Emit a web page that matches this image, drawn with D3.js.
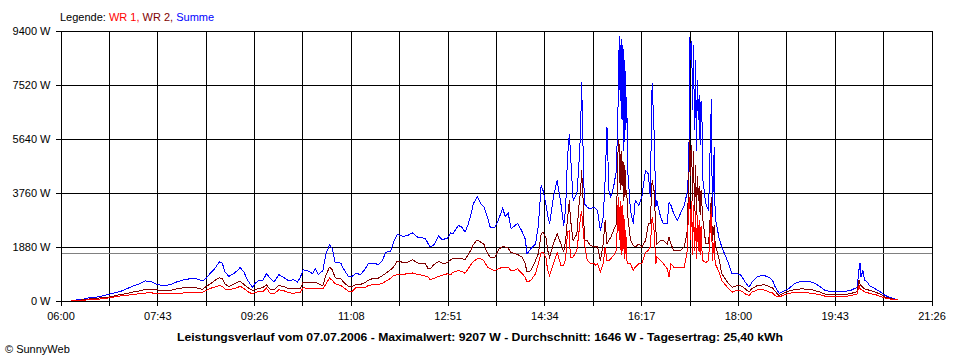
<!DOCTYPE html>
<html><head><meta charset="utf-8">
<script src="https://cdn.jsdelivr.net/npm/d3@7"></script>
<style>
html,body{margin:0;padding:0;background:#fff;}
svg{display:block;}
text{font-family:"Liberation Sans",Arial,sans-serif;font-size:11px;fill:#000;}
</style></head><body>
<svg id="c" width="960" height="360"></svg>
<script>
// ---- data ----
const times = [
 "06:11","06:17","06:23","06:30","06:36","06:42","06:51","06:57",
 "07:04","07:10","07:16","07:23","07:30","07:36","07:42","07:48","07:57",
 "08:03","08:10","08:18","08:25","08:31","08:35","08:39","08:44","08:49","08:52","08:55","08:59",
 "09:04","09:08","09:11","09:15","09:19","09:24","09:27","09:31","09:35","09:39","09:43","09:47","09:52","09:57",
 "10:02","10:08","10:12","10:15","10:18","10:24","10:28","10:31","10:34","10:39","10:42","10:46","10:49","10:52","10:58",
 "11:01","11:06","11:10","11:14","11:19","11:24","11:27","11:33","11:38","11:42","11:46","11:51","11:54","11:58",
 "12:04","12:09","12:14","12:20","12:25","12:28","12:31","12:33","12:37","12:42","12:46","12:49","12:51","12:55","12:57",
 "13:03","13:07","13:10","13:13","13:16","13:19","13:23","13:27","13:30","13:34","13:37","13:42","13:46","13:50","13:53","13:56","13:59",
 "14:02","14:06","14:11","14:14","14:16","14:20","14:25","14:28","14:31","14:33","14:36","14:38","14:40","14:44","14:48","14:52","14:55","14:57","14:59",
 "15:01","15:02","15:04","15:05","15:09","15:11","15:13","15:14","15:16","15:17","15:20","15:23","15:27","15:29","15:31","15:34",
 "15:37","15:39","15:41","15:43","15:45","15:48","15:51","15:53","15:54","15:55","15:56","15:57","15:58","15:59",
 "16:00","16:01","16:02","16:03","16:06","16:09","16:11","16:15","16:18","16:22","16:25","16:27","16:29","16:31","16:33","16:34","16:38","16:41","16:45","16:47","16:49","16:52","16:56","16:59",
 "17:03","17:06","17:08","17:09","17:10","17:11","17:12","17:13","17:14","17:15","17:16","17:17","17:18","17:19","17:20","17:21","17:22","17:23",
 "17:26","17:29","17:32","17:33","17:35","17:36","17:40","17:43","17:49","17:54","17:59",
 "18:03","18:08","18:12","18:15","18:21","18:28","18:33","18:37","18:40","18:44","18:49","18:54",
 "19:01","19:08","19:19","19:26","19:33","19:40","19:53",
 "20:00","20:07","20:09","20:10","20:11","20:13","20:15","20:18","20:20","20:26","20:32","20:37","20:44","20:50"
];
const wr1 = [
 0,0,0,30,30,50,90,120,
 160,170,210,230,260,270,240,230,240,
 250,260,280,280,280,350,420,470,520,490,400,370,
 410,450,500,420,310,230,280,310,300,430,240,230,370,350,
 270,250,280,290,440,420,410,410,410,410,560,780,700,580,520,
 450,320,320,440,440,440,520,560,560,600,670,770,870,900,
 900,940,960,900,880,850,810,730,770,840,880,900,930,900,980,
 1040,1010,950,1080,1240,1360,1450,1450,1390,1160,1100,1040,1110,1160,1160,1160,1040,
 1040,1100,930,810,640,700,930,1280,1680,1670,1510,1040,870,1280,1680,1220,1220,1460,2380,
 2440,1510,1510,1510,1740,2320,2960,3130,2330,1980,1390,1300,1300,1220,1280,990,
 1280,1860,1390,1390,1450,1570,1740,3600,2090,3480,1570,3310,1740,2960,
 1460,2440,1390,1290,1280,1040,1160,1280,1280,1680,1740,1860,2900,2440,1280,1510,1390,1280,1110,810,1280,1160,1140,1140,
 1140,1630,3370,3600,2090,3480,1570,3310,1740,3130,1460,2960,1740,2790,1570,2610,1740,1390,
 1320,1390,3250,1390,2090,1280,1010,700,460,290,350,
 350,230,170,290,370,370,300,260,170,120,190,240,
 290,290,250,210,150,140,140,
 170,230,520,410,380,350,300,280,240,210,140,80,40,20
];
const wr2 = [
 0,0,20,50,70,90,120,160,
 210,240,290,330,380,390,370,350,350,
 400,440,440,440,390,490,570,700,790,770,570,490,
 560,630,670,560,450,350,380,420,450,550,380,370,520,490,
 420,410,410,410,640,620,630,640,580,520,870,1160,1070,790,760,
 640,490,490,560,560,630,700,780,780,860,950,1070,1160,1370,
 1330,1330,1420,1300,1280,1280,1100,1100,1250,1360,1300,1300,1320,1420,1450,
 1470,1450,1420,1570,1740,1950,2110,2030,1970,1630,1510,1510,1780,1880,1860,1820,1670,
 1640,1600,1510,1280,990,1040,1390,1630,2320,2370,2200,1740,1510,1970,2320,1970,1680,2090,2840,
 3480,2900,2320,2090,2320,3250,3830,4530,3250,2090,2090,1920,1880,1860,1880,1390,
 1970,2790,1970,2090,2200,2440,2670,5570,5400,3830,5220,4000,4870,3480,
 4700,3660,3830,2960,2090,1920,1860,1970,1860,2090,2670,2670,4180,3830,2440,1970,2090,2090,1970,2200,1970,1740,1740,1740,
 1860,2320,4180,5570,4350,5400,3480,5220,3130,4700,2960,4350,3480,4000,2960,3830,3310,2790,
 1980,1970,3600,2090,2610,1970,1460,930,640,460,520,
 520,410,290,420,520,550,490,440,310,170,260,330,
 380,410,370,310,220,210,210,
 240,310,720,580,520,450,400,380,350,300,210,120,60,20
];
const summe = [
 0,20,30,90,100,140,210,260,
 320,400,490,570,680,660,570,520,550,
 640,710,760,750,680,780,940,1110,1350,1300,990,840,
 930,1040,1150,990,700,460,600,700,700,930,770,640,900,810,
 700,720,640,810,1070,1020,930,1100,900,1040,1600,1940,1800,1330,1300,
 1100,840,840,950,900,1100,1280,1300,1250,1390,1680,1720,2030,2300,
 2230,2260,2360,2200,2180,2150,1970,1860,1940,2240,2110,2150,2150,2360,2320,
 2610,2550,2380,2610,2960,3370,3620,3370,3270,2900,2530,2550,2840,3210,2920,3040,2500,
 2580,2690,2380,2150,1630,1800,1970,2610,4000,3830,3370,2960,2670,3600,4180,3370,2610,3190,4990,
 5810,5220,4060,3480,3720,4640,5920,7620,4640,3370,3250,3190,3250,3190,3130,2440,
 2900,4180,6030,3830,3600,3950,4530,7080,9207,6960,9120,6270,8880,5220,
 8360,5920,7080,4530,3130,2670,3480,3310,3600,4530,4410,3600,7560,5920,3250,3480,2900,2670,2670,3420,3310,3020,2790,3020,
 3310,3720,4530,9170,8360,9050,6620,8880,5920,8360,5220,7660,6270,7140,5400,6960,6270,4180,
 3370,3130,7020,2900,5340,2900,2200,1860,1390,930,930,
 900,640,460,640,840,870,810,700,460,250,320,410,
 600,670,640,520,350,310,310,
 350,460,1100,1300,810,1040,700,640,520,410,290,170,90,20
];
const yTickValues = [0, 1880, 3760, 5640, 7520, 9400];
const xTickLabels = ["06:00","07:43","09:26","11:08","12:51","14:34","16:17","18:00","19:43","21:26"];
const average = 1646;
const legendItems = [
  {text:"Legende: ", color:"#000000"},
  {text:"WR 1, ", color:"#ff0000"},
  {text:"WR 2, ", color:"#800000"},
  {text:"Summe", color:"#0000ff"}
];
const seriesList = [
  {name:"Summe", values:summe, color:"#0000ff"},
  {name:"WR 2", values:wr2, color:"#800000"},
  {name:"WR 1", values:wr1, color:"#ff0000"}
];
const titleText = "Leistungsverlauf vom 07.07.2006 - Maximalwert: 9207 W - Durchschnitt: 1646 W - Tagesertrag: 25,40 kWh";
const copyrightText = "\u00A9 SunnyWeb";

// ---- chart ----
const toMin = s => { const [h,m] = s.split(":").map(Number); return h*60+m; };
const startMin = toMin(xTickLabels[0]), endMin = toMin(xTickLabels[xTickLabels.length-1]);
const svg = d3.select("#c");
const x = d3.scaleLinear().domain([startMin, endMin]).range([60.5, 931.5]);
const y = d3.scaleLinear().domain([0, 9400]).range([300.5, 30.5]);

const nGrid = (xTickLabels.length - 1) * 2;
const gridVals = d3.range(nGrid + 1).map(i => startMin + i * (endMin - startMin) / nGrid);

// vertical grid
svg.append("g").attr("transform","translate(0,300.5)")
  .call(d3.axisBottom(x).tickValues(gridVals).tickSizeInner(-270).tickSizeOuter(0).tickFormat(""))
  .call(g => g.select(".domain").remove())
  .call(g => g.selectAll("line").attr("stroke","#000").attr("shape-rendering","crispEdges"));
// horizontal grid
svg.append("g").attr("transform","translate(60.5,0)")
  .call(d3.axisLeft(y).tickValues(yTickValues).tickSizeInner(-871).tickSizeOuter(0).tickFormat(""))
  .call(g => g.select(".domain").remove())
  .call(g => g.selectAll("line").attr("stroke","#000").attr("shape-rendering","crispEdges"));

// average line
svg.append("line")
  .attr("x1", x(startMin)).attr("x2", x(endMin))
  .attr("y1", Math.round(y(average)) + 0.5).attr("y2", Math.round(y(average)) + 0.5)
  .attr("stroke","#808080").attr("shape-rendering","crispEdges");

// x axis
svg.append("g").attr("transform","translate(0,300.5)")
  .call(d3.axisBottom(x).tickValues(gridVals).tickSizeInner(5).tickSizeOuter(0).tickPadding(7)
     .tickFormat((d,i) => i % 2 === 0 ? xTickLabels[i/2] : ""))
  .call(g => g.selectAll("line,path").attr("stroke","#000").attr("shape-rendering","crispEdges"))
  .call(g => g.selectAll("text").attr("font-family",'"Liberation Sans",Arial,sans-serif').attr("font-size",11).attr("fill","#000"));
// y axis
svg.append("g").attr("transform","translate(60.5,0)")
  .call(d3.axisLeft(y).tickValues(yTickValues).tickSizeInner(5).tickSizeOuter(0).tickPadding(5)
     .tickFormat(d => d + " W"))
  .call(g => g.selectAll("line,path").attr("stroke","#000").attr("shape-rendering","crispEdges"))
  .call(g => g.selectAll("text").attr("font-family",'"Liberation Sans",Arial,sans-serif').attr("font-size",11).attr("fill","#000"));

// series
const tMin = times.map(toMin);
const line = d3.line().x(d => x(d.t)).y(d => y(d.v));
seriesList.forEach(s => {
  const pts = tMin.map((t,i) => ({t, v:s.values[i]})).filter(d => d.v !== undefined);
  svg.append("path").datum(pts)
    .attr("d", line).attr("fill","none").attr("stroke", s.color)
    .attr("stroke-width",1).attr("shape-rendering","crispEdges");
});

// legend
const lg = svg.append("text").attr("x",60).attr("y",21);
lg.selectAll("tspan").data(legendItems).join("tspan")
  .attr("fill", d => d.color).attr("xml:space","preserve").text(d => d.text);
lg.style("white-space","pre");

// title
svg.append("text").attr("x",480).attr("y",341).attr("text-anchor","middle")
  .attr("font-weight","bold").attr("font-size",12)
  .attr("textLength",606).attr("lengthAdjust","spacingAndGlyphs")
  .text(titleText);
// copyright
svg.append("text").attr("x",5).attr("y",353).text(copyrightText);
</script>
</body></html>
